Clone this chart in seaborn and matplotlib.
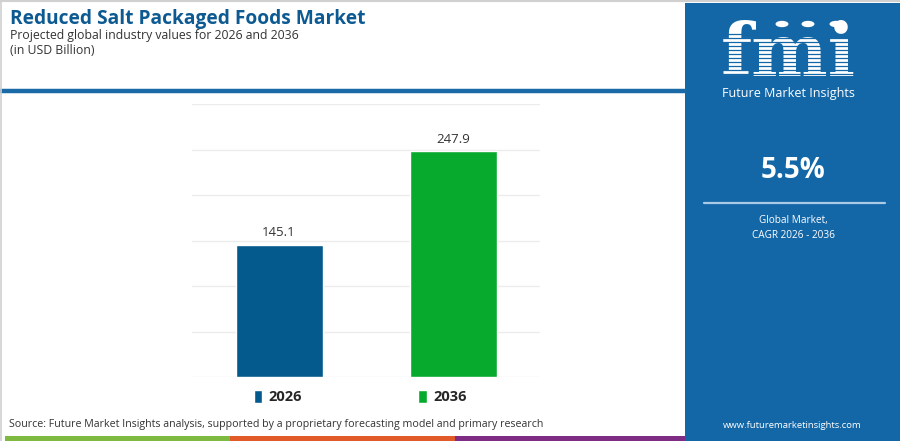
import matplotlib
matplotlib.use("Agg")
import matplotlib.pyplot as plt
from matplotlib.patches import Rectangle, Circle, Patch
from matplotlib.lines import Line2D
import pandas as pd
import seaborn as sns

years = ["2026", "2036"]
values = [145.1, 247.9]
bar_colors = ["#045a8d", "#08aa2d"]
y_ticks = [0, 50, 100, 150, 200, 250, 300]

title = "Reduced Salt Packaged Foods Market"
subtitle = "Projected global industry values for 2026 and 2036"
unit = "(in USD Billion)"
cagr = "5.5%"
cagr_label = "Global Market,\nCAGR 2026 - 2036"
source = "Source: Future Market Insights analysis, supported by a proprietary forecasting model and primary research"

W, H = 900, 441
PANEL = "#1467a7"


def fx(x):
    return x / W


def fy(y):
    return 1 - y / H


sns.set_theme(style="white")
plt.rcParams["font.family"] = ["Open Sans", "DejaVu Sans"]

fig = plt.figure(figsize=(9, 4.41), dpi=100)
fig.patch.set_facecolor("white")

# header
fig.text(fx(10), fy(19), title, fontsize=13.8, fontweight="bold", color="#0d5a92", va="center", ha="left")
fig.text(fx(10), fy(35), subtitle, fontsize=8.8, color="#333333", va="center", ha="left")
fig.text(fx(10), fy(51), unit, fontsize=8.8, color="#333333", va="center", ha="left")
fig.add_artist(Line2D([0, fx(685)], [fy(91), fy(91)], color="#1a6aa7", lw=3.2))
fig.add_artist(Line2D([fx(0.5), fx(0.5)], [0, 1], color="#d0d0d0", lw=1.2))
fig.add_artist(Line2D([0, 1], [fy(0.8), fy(0.8)], color="#d0d0d0", lw=1.5))

# chart
df = pd.DataFrame({"year": years, "value": values})
ax = fig.add_axes([fx(192), fy(377), fx(540) - fx(192), fy(104) - fy(377)])
sns.barplot(data=df, x="year", y="value", hue="year", palette=bar_colors,
            width=0.5, dodge=False, legend=False, ax=ax, saturation=1)
ax.set_ylim(0, 300)
ax.set_xlim(-0.5, 1.5)
ax.set_yticks(y_ticks)
ax.yaxis.grid(True, color="#ececec", lw=1)
ax.set_axisbelow(True)
ax.tick_params(left=False, bottom=False, labelleft=False, labelbottom=False)
ax.set_xlabel("")
ax.set_ylabel("")
for s in ax.spines.values():
    s.set_visible(False)
for c in ax.containers:
    ax.bar_label(c, fmt="%.1f", padding=4, fontsize=9.5, color="#333333")

handles = [Patch(facecolor=c, label=y) for y, c in zip(years, bar_colors)]
leg = fig.legend(handles=handles, loc="center", bbox_to_anchor=(fx(360), fy(397)), ncol=2,
                 frameon=False, handlelength=0.6, handleheight=1.0, handletextpad=0.4,
                 columnspacing=8.0, prop={"weight": "bold", "size": 10.5})

fig.text(fx(9), fy(425), source, fontsize=7.7, color="#333333", va="center", ha="left")

# bottom colour bands
for x0, x1, c in [(5, 230, "#7dba3f"), (230, 455, "#e35a2a"), (455, 685, "#7e2c84")]:
    fig.add_artist(Rectangle((fx(x0), 0), fx(x1) - fx(x0), fy(436), color=c, lw=0))

# right panel
fig.add_artist(Rectangle((fx(685), 0), 1 - fx(685), fy(3), color=PANEL, lw=0))
fig.text(fx(788), fy(55), "fmi", fontsize=52, fontweight="bold", family="DejaVu Serif",
         color="white", ha="center", va="center", zorder=3)
for yy in range(34, 82, 4):
    fig.add_artist(Line2D([fx(718), fx(860)], [fy(yy), fy(yy)], color=PANEL, lw=0.9, zorder=4))
for cx in [782, 808, 836]:
    fig.add_artist(Circle((fx(cx), fy(24)), 0.0072, transform=fig.transFigure, color="white",
                          lw=0, zorder=5))
fig.text(fx(788), fy(93), "Future Market Insights", fontsize=9, color="white", ha="center", va="center")
fig.text(fx(793), fy(171), cagr, fontsize=20, fontweight="bold", color="white", ha="center", va="center")
fig.add_artist(Line2D([fx(704), fx(885)], [fy(203), fy(203)], color="#a9cbe8", lw=1.6))
fig.text(fx(793), fy(228), cagr_label, fontsize=7.2, color="white", ha="center", va="center",
         linespacing=1.6)
fig.text(fx(792), fy(425), "www.futuremarketinsights.com", fontsize=6.8, color="white",
         ha="center", va="center")

fig.savefig("out.png", dpi=100)
